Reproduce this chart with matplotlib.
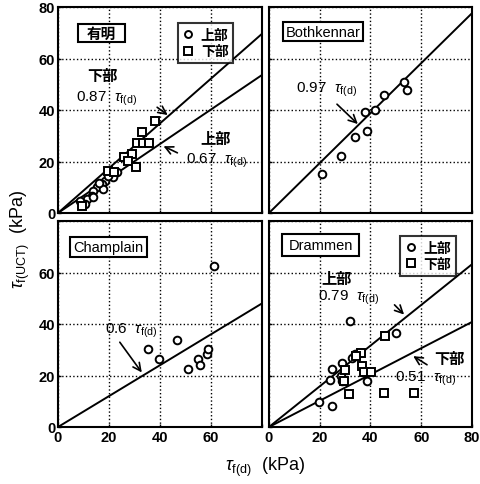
import matplotlib
matplotlib.use('Agg')
import matplotlib.pyplot as plt
from matplotlib.lines import Line2D
from matplotlib.patches import Rectangle

plt.rcParams['font.family'] = ['Liberation Sans', 'Noto Sans CJK JP']
plt.rcParams['mathtext.fontset'] = 'custom'
plt.rcParams['mathtext.rm'] = 'Liberation Sans'
plt.rcParams['mathtext.it'] = 'Liberation Sans:italic'
plt.rcParams['mathtext.bf'] = 'Liberation Sans:bold'

# 有明 (Ariake)
ariake_up_x = [20.4, 23.0, 21.7, 18.4, 17.1, 15.2, 17.8, 13.8, 13.2, 11.3, 13.8, 10.6, 8.5, 16.0, 19.5]
ariake_up_y = [15.1, 15.8, 13.9, 12.5, 11.3, 10.0, 9.3, 8.7, 6.7, 5.4, 6.1, 3.5, 4.5, 11.5, 14.5]
ariake_lo_x = [38.0, 32.8, 30.9, 33.5, 35.8, 28.9, 25.9, 27.6, 30.6, 9.3, 19.5, 22.0]
ariake_lo_y = [35.8, 31.3, 27.2, 27.2, 27.2, 22.9, 21.6, 20.3, 17.7, 2.8, 16.5, 16.0]
ariake_k = [0.87, 0.67]

# Bothkennar
both_x = [20.7, 28.2, 33.9, 38.5, 37.8, 41.7, 45.3, 53.1, 54.2]
both_y = [15.1, 22.0, 29.6, 31.7, 39.1, 40.0, 45.8, 50.8, 47.9]
both_k = 0.97

# Champlain
champ_x = [61.3, 46.5, 35.2, 39.6, 50.9, 55.0, 55.7, 58.3, 58.7]
champ_y = [62.4, 33.9, 30.1, 26.4, 22.4, 26.5, 24.0, 28.3, 30.4]
champ_k = 0.6

# Drammen
dram_up_x = [32.1, 50.0, 32.8, 28.8, 24.8, 24.2, 28.2, 19.6, 24.8, 38.7, 28.8, 34.0]
dram_up_y = [41.1, 36.6, 26.9, 24.9, 22.7, 18.4, 19.7, 9.6, 8.3, 17.8, 17.8, 28.4]
dram_lo_x = [45.8, 36.1, 34.1, 29.9, 36.7, 37.4, 40.1, 29.5, 31.5, 45.4, 57.3]
dram_lo_y = [35.3, 28.8, 27.5, 22.3, 23.6, 21.3, 21.3, 17.8, 13.0, 13.3, 13.3]
dram_k = [0.79, 0.51]

xline = [0, 80]
ticks = [0, 20, 40, 60, 80]

fig = plt.figure(figsize=(4.81, 4.85), dpi=100)
W, H = 481, 485
def add_ax(x0, y0, x1, y1):
    return fig.add_axes([x0 / W, 1 - y1 / H, (x1 - x0) / W, (y1 - y0) / H])

ax1 = add_ax(58, 8, 262, 214)
ax2 = add_ax(269, 8, 472, 214)
ax3 = add_ax(58, 222, 262, 428)
ax4 = add_ax(269, 222, 472, 428)

circ = dict(marker='o', ls='none', mfc='white', mec='black', mew=1.4, ms=5.5)
sq = dict(marker='s', ls='none', mfc='white', mec='black', mew=1.4, ms=5.8)
tfont = dict(family=['Liberation Sans', 'Noto Sans CJK JP'], fontsize=11)

for ax in (ax1, ax2, ax3, ax4):
    ax.set_xlim(0, 80)
    ax.set_ylim(0, 80)
    ax.set_xticks(ticks)
    ax.set_yticks(ticks)
    ax.grid(True, ls=':', color='black', lw=1.0)
    ax.tick_params(direction='in', length=2, width=1, labelsize=10.5, pad=2)
    for s in ax.spines.values():
        s.set_linewidth(1.5)

ax1.set_xticklabels([])
ax2.set_xticklabels([])
ax2.set_yticklabels([])
ax4.set_yticklabels([])
ax3.set_xticklabels(['0', '20', '40', '60', ''], fontweight='bold')
ax3.set_yticklabels(['0', '20', '40', '60', ''], fontweight='bold')
ax1.set_yticklabels(['0', '20', '40', '60', '80'], fontweight='bold')
ax4.set_xticklabels(['0', '20', '40', '60', '80'], fontweight='bold')


def title_box(ax, x0, y0, x1, y1, text, **kw):
    ax.add_patch(Rectangle((x0, y0), x1 - x0, y1 - y0, transform=ax.transAxes,
                           fc='white', ec='black', lw=1.5, zorder=5))
    ax.text((x0 + x1) / 2, (y0 + y1) / 2, text, transform=ax.transAxes,
            ha='center', va='center', fontsize=10.5, zorder=6, **kw)


def legend(ax, anchor):
    h = [Line2D([], [], **dict(circ, ms=5)), Line2D([], [], **dict(sq, ms=5.5))]
    lg = ax.legend(h, ['上部', '下部'], loc='upper right', bbox_to_anchor=anchor,
                   frameon=True, fancybox=False, handlelength=0.8,
                   handletextpad=0.5, borderpad=0.35, labelspacing=0.15,
                   borderaxespad=0, prop=dict(family=['Noto Sans CJK JP'], size=10, weight='bold'))
    lg.get_frame().set_edgecolor('black')
    lg.get_frame().set_linewidth(1.5)
    lg.set_zorder(6)


arrow = dict(arrowstyle='->', lw=1.2, color='black', mutation_scale=14)

# panel 1
for k in ariake_k:
    ax1.plot(xline, [k * x for x in xline], color='black', lw=1.4)
ax1.plot(ariake_up_x, ariake_up_y, **circ)
ax1.plot(ariake_lo_x, ariake_lo_y, **sq)
title_box(ax1, 0.098, 0.83, 0.328, 0.917, '有明', fontweight='bold',
          family=['Noto Sans CJK JP'])
legend(ax1, (0.86, 0.92))
ax1.text(11.5, 51.5, '下部', fontweight='bold', **tfont)
ax1.text(7.0, 43.5, r'0.87  $\tau_{\rm f(d)}$', **tfont)
ax1.annotate('', xy=(43.9, 37.4), xytext=(38, 41.7), arrowprops=arrow)
ax1.text(56.0, 27.0, '上部', fontweight='bold', **tfont)
ax1.text(50.0, 19.5, r'0.67  $\tau_{\rm f(d)}$', **tfont)
ax1.annotate('', xy=(40.4, 26.4), xytext=(47.8, 22.9), arrowprops=arrow)

# panel 2
ax2.plot(xline, [both_k * x for x in xline], color='black', lw=1.4)
ax2.plot(both_x, both_y, **circ)
title_box(ax2, 0.069, 0.835, 0.463, 0.927, 'Bothkennar')
ax2.text(10.5, 47.0, r'0.97  $\tau_{\rm f(d)}$', **tfont)
ax2.annotate('', xy=(35.8, 33.8), xytext=(26, 43), arrowprops=arrow)

# panel 3
ax3.plot(xline, [champ_k * x for x in xline], color='black', lw=1.4)
ax3.plot(champ_x, champ_y, **circ)
title_box(ax3, 0.059, 0.825, 0.436, 0.922, 'Champlain')
ax3.text(18.5, 36.5, r'0.6  $\tau_{\rm f(d)}$', **tfont)
ax3.annotate('', xy=(33.5, 20.3), xytext=(23.6, 33.8), arrowprops=arrow)

# panel 4
for k in dram_k:
    ax4.plot(xline, [k * x for x in xline], color='black', lw=1.4)
ax4.plot(dram_up_x, dram_up_y, **circ)
ax4.plot(dram_lo_x, dram_lo_y, **sq)
title_box(ax4, 0.066, 0.83, 0.443, 0.937, 'Drammen')
legend(ax4, (0.92, 0.927))
ax4.text(20.5, 56.0, '上部', fontweight='bold', **tfont)
ax4.text(19.5, 49.5, r'0.79  $\tau_{\rm f(d)}$', **tfont)
ax4.annotate('', xy=(54, 42.9), xytext=(48.7, 48.2), arrowprops=arrow)
ax4.text(65.0, 25.0, '下部', fontweight='bold', **tfont)
ax4.text(49.5, 18.0, r'0.51  $\tau_{\rm f(d)}$', **tfont)
ax4.annotate('', xy=(55.9, 28.1), xytext=(63.2, 23.6), arrowprops=arrow)

fig.text(265 / W, 1 - 467 / H, r'$\tau_{\rm f(d)}$  (kPa)', ha='center', va='center',
         fontsize=13)
fig.text(20 / W, 1 - 240 / H, r'$\tau_{\rm f(UCT)}$  (kPa)', ha='center', va='center',
         fontsize=13, rotation=90)

fig.savefig('out.png', dpi=100)
